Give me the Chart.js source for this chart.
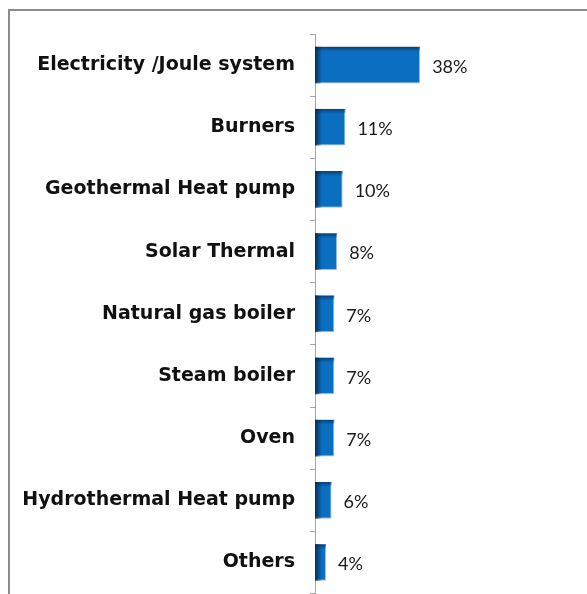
<!DOCTYPE html>
<html>
<head>
<meta charset="utf-8">
<script src="https://cdn.jsdelivr.net/npm/chart.js@4/dist/chart.umd.min.js"></script>
<style>
  html, body { margin: 0; padding: 0; background: #fff; overflow: hidden; }
  #wrap { position: relative; width: 587px; height: 594px; overflow: hidden; }
  #frame { position: absolute; left: 8px; top: 9px; width: 640px; height: 640px;
           border-left: 2px solid #8c8c8c; border-top: 2px solid #8c8c8c; }
  #mychart { position: absolute; left: 0; top: 0; }
</style>
</head>
<body>
<div id="wrap">
  <div id="frame"></div>
  <canvas id="mychart" width="587" height="620"></canvas>
</div>
<script>
//DATA---------------------------------------------------------------
const categorias = [
  "Electricity /Joule system",
  "Burners",
  "Geothermal Heat pump",
  "Solar Thermal",
  "Natural gas boiler",
  "Steam boiler",
  "Oven",
  "Hydrothermal Heat pump",
  "Others"
];
const valores = [38, 11, 10, 8, 7, 7, 7, 6, 4];
const sufixo = "%";
//-------------------------------------------------------------------


//PLUGIN SOMBRA DAS BARRAS + RÓTULOS----------------------------------
const barShade = {
  id: "barShade",
  afterDatasetsDraw(chart) {
    const ctx = chart.ctx;
    const meta = chart.getDatasetMeta(0);
    meta.data.forEach(function (bar, i) {
      const top = bar.y - bar.height / 2;
      const left = bar.base;
      const w = bar.x - bar.base;
      // sombra topo
      const gTop = ctx.createLinearGradient(0, top, 0, top + 5);
      gTop.addColorStop(0, "rgba(5,35,70,0.6)");
      gTop.addColorStop(1, "rgba(5,35,70,0)");
      ctx.fillStyle = gTop;
      ctx.fillRect(left, top, w, 5);
      // sombra esquerda
      const gLeft = ctx.createLinearGradient(left, 0, left + 7, 0);
      gLeft.addColorStop(0, "rgba(5,35,70,0.85)");
      gLeft.addColorStop(1, "rgba(5,35,70,0)");
      ctx.fillStyle = gLeft;
      ctx.fillRect(left, top, Math.min(7, w), bar.height);
      // rótulo
      ctx.fillStyle = "#1a1a1a";
      ctx.font = "18px Lato";
      ctx.textAlign = "left";
      ctx.textBaseline = "middle";
      ctx.fillText(valores[i] + sufixo, bar.x + 12, bar.y + 2);
    });
  }
};
//-------------------------------------------------------------------


//BARRAS FUNÇÃO------------------------------------------------------
function bar() {
  const data = {
    labels: categorias,
    datasets: [
      {
        data: valores,
        backgroundColor: "#0a6fc0",
        borderColor: "#9cc3e6",
        borderWidth: { top: 0, left: 0, right: 1, bottom: 1 },
        borderSkipped: false,
        categoryPercentage: 1,
        barPercentage: 0.59,
      },
    ],
  };
  const config = {
    type: "bar",
    data: data,
    plugins: [barShade],
    options: {
      indexAxis: "y",
      responsive: false,
      animation: false,
      layout: { padding: { top: 34, bottom: 19, left: 0, right: 23 } },
      plugins: { legend: { display: false }, tooltip: { enabled: false } },
      scales: {
        x: { display: false, min: 0, max: 90 },
        y: {
          afterFit: function (s) { s.width = 315; },
          border: { display: true, color: "#a6a6a6", width: 1 },
          grid: { drawOnChartArea: false, drawTicks: true, tickLength: 5, color: "#a6a6a6", offset: true },
          ticks: {
            padding: 15,
            color: "#111",
            font: { family: "DejaVu Sans", size: 19, weight: "bold" },
          },
        },
      },
    },
  };
  return new Chart(document.getElementById("mychart"), config);
}
const barChart = bar();
//-------------------------------------------------------------------
</script>
</body>
</html>
